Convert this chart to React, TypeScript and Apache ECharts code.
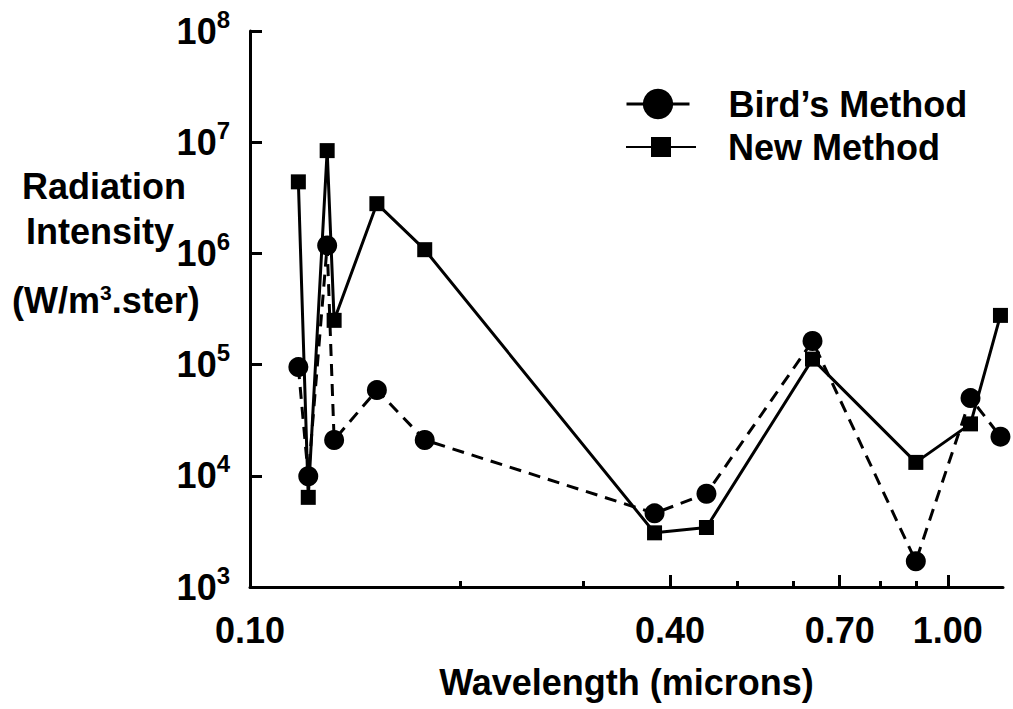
import React, { useEffect, useRef } from "react";
import * as echarts from "echarts";

const wavelengths = [0.1173, 0.1212, 0.129, 0.132, 0.152, 0.178, 0.38, 0.451, 0.64, 0.9, 1.078, 1.19];
const birdsMethod = [9.5e4, 9.9e3, 1.18e6, 2.1e4, 5.9e4, 2.1e4, 4.6e3, 6.9e3, 1.63e5, 1.7e3, 5.0e4, 2.25e4];
const newMethod = [4.4e6, 6.4e3, 8.4e6, 2.5e5, 2.8e6, 1.08e6, 3.07e3, 3.43e3, 1.12e5, 1.32e4, 2.93e4, 2.77e5];
const xLabelValues = [0.1, 0.4, 0.7, 1.0];
const xMajorTicks = [0.4, 0.7, 1.0];
const xMinorTicks = [0.2, 0.3, 0.5, 0.6, 0.8, 0.9];

const FONT = "Liberation Sans";

export default function App() {
  const ref = useRef<HTMLDivElement>(null);
  useEffect(() => {
    if (!ref.current) return;
    const chart = echarts.init(ref.current, null, { renderer: "svg" });
    const pair = (ys: number[]) => wavelengths.map((x, i) => [x, ys[i]]);
    const baseText = { fontFamily: FONT, fontWeight: "bold", color: "#000" };
    chart.setOption({
      animation: false,
      backgroundColor: "#fff",
      grid: { left: 250, right: 10, top: 31, bottom: 122, containLabel: false },
      legend: [
        {
          data: [{ name: "Bird\u2019s Method", lineStyle: { type: "solid", width: 3, color: "#000" } }],
          left: 620,
          top: 81,
          itemWidth: 63,
          itemHeight: 38,
          textStyle: { ...baseText, fontSize: 36, padding: [0, 0, 0, 34] },
        },
        {
          data: ["New Method"],
          left: 620,
          top: 124,
          itemWidth: 70,
          itemHeight: 25,
          textStyle: { ...baseText, fontSize: 36, padding: [0, 0, 0, 27] },
        },
      ],
      xAxis: [
        {
          type: "log",
          logBase: 10,
          min: 0.1,
          max: 1.2,
          name: "Wavelength (microns)",
          nameLocation: "middle",
          nameGap: 77,
          nameTextStyle: { ...baseText, fontSize: 36 },
          axisLine: { lineStyle: { color: "#000", width: 3 } },
          axisTick: { inside: true, length: 12, lineStyle: { color: "#000", width: 3 }, customValues: xMajorTicks },
          axisLabel: {
            ...baseText,
            fontSize: 36,
            margin: 25,
            customValues: xLabelValues,
            formatter: (v: number) => v.toFixed(2),
          },
          splitLine: { show: false },
          minorTick: { show: false },
        },
        {
          type: "log",
          logBase: 10,
          min: 0.1,
          max: 1.2,
          position: "bottom",
          axisLine: { show: false },
          axisTick: { inside: true, length: 6, lineStyle: { color: "#000", width: 3 }, customValues: xMinorTicks },
          axisLabel: { show: false },
          splitLine: { show: false },
        },
      ],
      yAxis: {
        type: "log",
        logBase: 10,
        min: 1e3,
        max: 1e8,
        axisLine: { show: true, lineStyle: { color: "#000", width: 3 } },
        axisTick: { inside: true, length: 12, lineStyle: { color: "#000", width: 3 } },
        axisLabel: {
          margin: 20,
          formatter: (v: number) => `{a|10}{s|${Math.round(Math.log10(v))}}`,
          rich: {
            a: { ...baseText, fontSize: 36, lineHeight: 48 },
            s: { ...baseText, fontSize: 24, lineHeight: 24, verticalAlign: "top" },
          },
        },
        splitLine: { show: false },
      },
      graphic: [
        { type: "text", left: 22, top: 168, style: { text: "Radiation", font: `bold 36px ${FONT}`, fill: "#000" } },
        { type: "text", left: 26, top: 213, style: { text: "Intensity", font: `bold 36px ${FONT}`, fill: "#000" } },
        {
          type: "text",
          left: 12,
          top: 282,
          style: {
            text: "(W/m{s|3}.ster)",
            font: `bold 36px ${FONT}`,
            fill: "#000",
            rich: {
              s: { fontFamily: FONT, fontWeight: "bold", fontSize: 21, verticalAlign: "top", lineHeight: 21 },
            },
          },
        },
      ],
      series: [
        {
          name: "Bird\u2019s Method",
          type: "line",
          data: pair(birdsMethod),
          symbol: "circle",
          symbolSize: 20,
          itemStyle: { color: "#000" },
          lineStyle: { color: "#000", width: 3, type: [12, 8] },
        },
        {
          name: "New Method",
          type: "line",
          data: pair(newMethod),
          symbol: "rect",
          symbolSize: 15,
          itemStyle: { color: "#000" },
          lineStyle: { color: "#000", width: 3, type: "solid" },
        },
      ],
    });
    return () => chart.dispose();
  }, []);
  return <div ref={ref} style={{ position: "fixed", left: 0, top: 0, width: 1013, height: 709 }} />;
}
